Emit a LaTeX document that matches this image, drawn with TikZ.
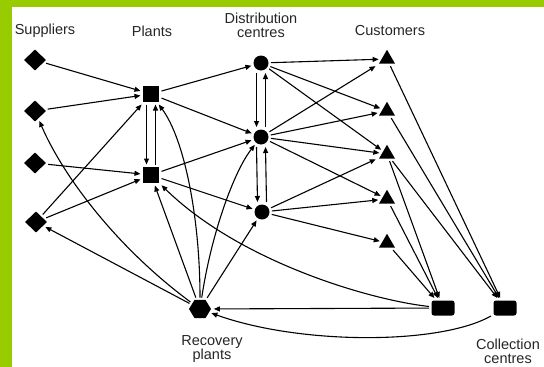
\documentclass[tikz,border=0pt]{standalone}
\usepackage{fontspec}
\setmainfont{Liberation Sans}
\usetikzlibrary{arrows.meta,shapes.geometric}
\definecolor{limebar}{RGB}{153,204,0}
\begin{document}
\begin{tikzpicture}[x=1pt,y=-1pt,
  every node/.style={inner sep=0pt, outer sep=2.5pt},
  sup/.style={diamond, fill=black, minimum width=24pt, minimum height=23pt},
  plant/.style={rectangle, fill=black, minimum size=16pt},
  dc/.style={circle, fill=black, minimum size=15pt},
  cust/.style={regular polygon, regular polygon sides=3, fill=black, minimum size=18.5pt},
  coll/.style={rectangle, rounded corners=2.5pt, fill=black, minimum width=23pt, minimum height=15pt},
  rec/.style={regular polygon, regular polygon sides=6, fill=black, minimum size=22pt, yscale=0.95},
  lbl/.style={font=\fontsize{14.5}{14}\selectfont, align=center, text=black!85, outer sep=0pt},
  arr/.style={-{Triangle[length=6pt,width=5pt]}, line width=1.1pt},
]
\useasboundingbox (0,0) rectangle (544,367);
\fill[limebar] (0,0) rectangle (544,367);
\fill[white] (12,7) rectangle (544,367);

% labels
\node[lbl] (lS) at (45,31) {Suppliers};
\node[lbl] (lP) at (152,31) {Plants};
\node[lbl] (lD) at (261,25) {Distribution\\centres};
\node[lbl] (lC) at (390,31) {Customers};
\node[lbl] (lR) at (212,349) {Recovery\\plants};
\node[lbl] (lK) at (508,351) {Collection\\centres};

% nodes
\node[sup] (S1) at (35,60) {};
\node[sup] (S2) at (35,111) {};
\node[sup] (S3) at (35,163) {};
\node[sup] (S4) at (36,222) {};
\node[plant] (P1) at (151,94) {};
\node[plant] (P2) at (151,175) {};
\node[dc] (D1) at (261,63) {};
\node[dc] (D2) at (261,137) {};
\node[dc] (D3) at (262,212) {};
\node[cust] (C1) at (387,59) {};
\node[cust] (C2) at (387,111) {};
\node[cust] (C3) at (387,154) {};
\node[cust] (C4) at (387,199) {};
\node[cust] (C5) at (387,243) {};
\node[coll] (K1) at (443,308) {};
\node[coll] (K2) at (505,308) {};
\node[rec] (R) at (200,309) {};

% suppliers -> plants
\draw[arr] (S1) -- (P1);
\draw[arr] (S2) -- (P1);
\draw[arr] (S3) -- (P2);
\draw[arr] (S4) -- (P1);
\draw[arr] (S4) -- (P2);
% plants vertical
\draw[arr] ([xshift=-4.5pt]P1.south) -- ([xshift=-4.5pt]P2.north);
\draw[arr] ([xshift=4.5pt]P2.north) -- ([xshift=4.5pt]P1.south);
% plants -> DCs
\draw[arr] (P1) -- (D1);
\draw[arr] (P1) -- (D2);
\draw[arr] (P2) -- (D2);
\draw[arr] (P2) -- (D3);
% DC verticals
\draw[arr] ([xshift=-4.5pt]D1.south) -- ([xshift=-4.5pt]D2.north);
\draw[arr] ([xshift=4.5pt]D2.north) -- ([xshift=4.5pt]D1.south);
\draw[arr] ([xshift=-4.5pt]D2.south) -- ([xshift=-4.5pt]D3.north);
\draw[arr] ([xshift=4.5pt]D3.north) -- ([xshift=4.5pt]D2.south);
% DCs -> customers
\draw[arr] (D1) -- (C1);
\draw[arr] (D1) -- (C2);
\draw[arr] (D1) -- (C3);
\draw[arr] (D2) -- (C1);
\draw[arr] (D2) -- (C2);
\draw[arr] (D2) -- (C3);
\draw[arr] (D2) -- (C4);
\draw[arr] (D3) -- (C3);
\draw[arr] (D3) -- (C4);
\draw[arr] (D3) -- (C5);
% customers -> collection centres
\draw[arr] (C1) -- (K2);
\draw[arr] (C2) -- (K2);
\draw[arr] (C3) -- (K2);
\draw[arr] (C3) -- (K1);
\draw[arr] (C4) -- (K1);
\draw[arr] (C5) -- (K1);
% collection -> recovery / plants
\draw[arr] (K1) -- (R);
\draw[arr] (K2) .. controls (440,345) and (300,345) .. (R);
\draw[arr] (K1) .. controls (370,300) and (240,262) .. (P2);
% recovery -> others
\draw[arr] (R) -- (S4);
\draw[arr] (R) .. controls (120,250) and (65,180) .. (S2);
\draw[arr] (R) -- (P2);
\draw[arr] (R) .. controls (200,220) and (185,140) .. (P1);
\draw[arr] (R) .. controls (212,230) and (235,170) .. (D2);
\draw[arr] (R) -- (D3);
\end{tikzpicture}
\end{document}
